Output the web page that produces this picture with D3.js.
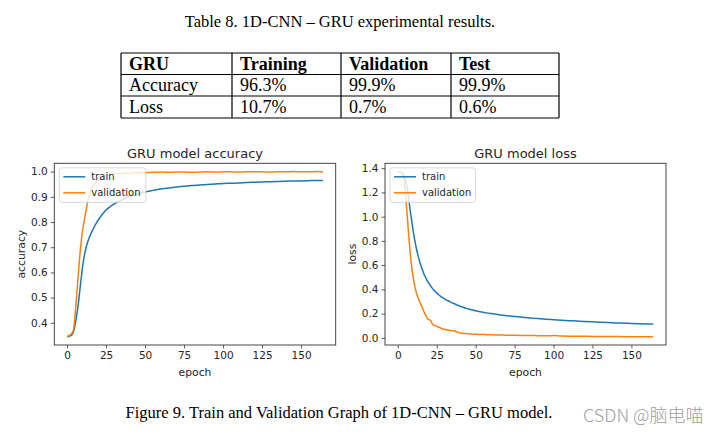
<!DOCTYPE html>
<html>
<head>
<meta charset="utf-8">
<script src="https://cdn.jsdelivr.net/npm/d3@7"></script>
<style>
  body { margin: 0; background: #fff; }
  svg { display: block; }
</style>
</head>
<body>
<div id="chart"></div>
<script>
// table values
var tableHeaders = ["GRU", "Training", "Validation", "Test"];
var tableMetrics = ["Accuracy", "Loss"];
var trainingCol = ["96.3%", "10.7%"];
var validationCol = ["99.9%", "0.7%"];
var testCol = ["99.9%", "0.6%"];

// epochs sampled from the curves
var epochs = [0,1,2,3,4,5,6,7,8,9,10,11,12,13,14,15,16,17,18,19,20,21,22,23,24,25,26,27,28,29,30,
  32,34,36,38,40,42,44,46,48,50,52,54,56,58,60,
  65,70,75,80,85,90,95,100,105,110,115,120,125,130,135,140,145,150,155,160,164];

var trainAcc = [.345,.346,.348,.352,.362,.388,.425,.465,.52,.575,.625,.665,.695,.717,.735,.75,.763,.776,.788,.799,.808,.817,.826,.834,.841,.848,.853,.858,.863,.867,.871,
  .878,.885,.891,.896,.901,.905,.909,.913,.916,.919,.922,.924,.927,.929,.931,
  .935,.939,.942,.945,.947,.949,.951,.953,.954,.955,.957,.958,.959,.96,.961,.962,.963,.963,.964,.965,.965];

var valAcc = [.345,.348,.352,.358,.37,.42,.5,.575,.655,.72,.77,.805,.84,.875,.9,.92,.935,.945,.955,.962,.968,.972,.976,.979,.982,.984,.986,.987,.988,.989,.99,
  .991,.992,.993,.994,.993,.995,.996,.995,.996,.997,.996,.997,.998,.997,.998,
  .997,.998,.998,.997,.998,.999,.998,.999,.999,.998,.999,.999,.999,.998,.999,.999,1.0,.999,.999,1.0,.999];

var trainLoss = [1.372,1.37,1.366,1.358,1.34,1.3,1.24,1.15,1.05,.96,.875,.8,.735,.68,.63,.59,.555,.52,.495,.47,.45,.43,.412,.397,.383,.37,.358,.348,.338,.33,.322,
  .308,.295,.283,.271,.261,.252,.243,.236,.229,.223,.218,.213,.208,.204,.2,
  .191,.183,.176,.17,.164,.159,.154,.15,.146,.142,.138,.135,.132,.129,.126,.123,.121,.119,.117,.115,.114];

var valLoss = [1.372,1.37,1.365,1.35,1.3,1.18,1.02,.85,.7,.58,.49,.42,.37,.33,.3,.27,.24,.21,.185,.16,.15,.145,.12,.105,.1,.095,.088,.085,.078,.072,.07,
  .065,.06,.058,.048,.04,.036,.035,.032,.031,.03,.028,.029,.027,.026,.025,
  .024,.022,.021,.02,.019,.018,.017,.019,.015,.014,.014,.013,.012,.012,.011,.011,.01,.01,.01,.009,.009];

var xTicks = [0, 25, 50, 75, 100, 125, 150];
var accTicks = [0.4, 0.5, 0.6, 0.7, 0.8, 0.9, 1.0];
var lossTicks = [0.0, 0.2, 0.4, 0.6, 0.8, 1.0, 1.2, 1.4];
var seriesNames = ["train", "validation"];
var seriesColors = ["#1f77b4", "#ff7f0e"];

var W = 721, H = 441;
var svg = d3.select("#chart").append("svg")
  .attr("width", W).attr("height", H);

var serif = "'Liberation Serif', 'Times New Roman', serif";
var sans = "'DejaVu Sans', sans-serif";

// ---- table ----
svg.append("text")
  .attr("x", 340).attr("y", 27)
  .attr("text-anchor", "middle")
  .style("font-family", serif).style("font-size", "16.5px")
  .text("Table 8. 1D-CNN \u2013 GRU experimental results.");

var colEdges = [121, 232, 341, 451, 559];
var rowEdges = [53, 74.5, 96, 118];
var tbl = svg.append("g");
var cells = [tableHeaders];
tableMetrics.forEach(function(m, i) {
  cells.push([m, trainingCol[i], validationCol[i], testCol[i]]);
});
cells.forEach(function(row, r) {
  row.forEach(function(txt, c) {
    tbl.append("text")
      .attr("x", colEdges[c] + 8)
      .attr("y", rowEdges[r + 1] - 5)
      .style("font-family", serif)
      .style("font-size", "18px")
      .style("font-weight", r == 0 ? "bold" : "normal")
      .text(txt);
  });
});
rowEdges.forEach(function(y) {
  tbl.append("line").attr("x1", colEdges[0]).attr("x2", colEdges[4])
    .attr("y1", y).attr("y2", y).attr("stroke", "#000").attr("stroke-width", 1.2);
});
colEdges.forEach(function(x) {
  tbl.append("line").attr("x1", x).attr("x2", x)
    .attr("y1", rowEdges[0]).attr("y2", rowEdges[3]).attr("stroke", "#000").attr("stroke-width", 1.2);
});

// ---- charts ----
function drawChart(opt) {
  var g = svg.append("g");
  var x = d3.scaleLinear().domain([-8.2, 172.2]).range([opt.left, opt.right]);
  var y = d3.scaleLinear().domain(opt.yDomain).range([opt.bottom, opt.top]);

  var line = d3.line()
    .x(function(d) { return x(d[0]); })
    .y(function(d) { return y(d[1]); })
    .curve(d3.curveMonotoneX);

  opt.series.forEach(function(vals, i) {
    g.append("path")
      .datum(epochs.map(function(e, k) { return [e, vals[k]]; }))
      .attr("fill", "none")
      .attr("stroke", seriesColors[i])
      .attr("stroke-width", 1.5)
      .attr("d", line);
  });

  var xAxis = g.append("g")
    .attr("transform", "translate(0," + opt.bottom + ")")
    .call(d3.axisBottom(x).tickValues(xTicks).tickSize(3.5).tickPadding(3));
  var yAxis = g.append("g")
    .attr("transform", "translate(" + opt.left + ",0)")
    .call(d3.axisLeft(y).tickValues(opt.yTicks).tickFormat(d3.format(".1f")).tickSize(3.5).tickPadding(3));
  [xAxis, yAxis].forEach(function(a) {
    a.select(".domain").remove();
    a.selectAll("line").attr("stroke", "#333").attr("stroke-width", 0.8);
    a.selectAll("text").style("font-family", sans).style("font-size", "10.5px").attr("fill", "#262626");
  });

  g.append("rect")
    .attr("x", opt.left).attr("y", opt.top)
    .attr("width", opt.right - opt.left).attr("height", opt.bottom - opt.top)
    .attr("fill", "none").attr("stroke", "#333").attr("stroke-width", 0.9);

  // legend
  var lg = g.append("g").attr("transform", "translate(" + (opt.left + 5) + "," + (opt.top + 4.5) + ")");
  lg.append("rect")
    .attr("width", opt.legendW).attr("height", 34.5)
    .attr("rx", 2.5)
    .attr("fill", "#fff").attr("fill-opacity", 0.8)
    .attr("stroke", "#d0d0d0").attr("stroke-width", 0.8);
  seriesNames.forEach(function(n, i) {
    var ly = 9 + i * 16;
    lg.append("line").attr("x1", 4).attr("x2", 26).attr("y1", ly).attr("y2", ly)
      .attr("stroke", seriesColors[i]).attr("stroke-width", 1.5);
    lg.append("text").attr("x", 32).attr("y", ly + 3.5)
      .style("font-family", sans).style("font-size", "10px").attr("fill", "#262626")
      .text(n);
  });

  g.append("text")
    .attr("x", (opt.left + opt.right) / 2).attr("y", opt.top - 5)
    .attr("text-anchor", "middle")
    .style("font-family", sans).style("font-size", "13px").attr("fill", "#262626")
    .text(opt.title);
  g.append("text")
    .attr("x", (opt.left + opt.right) / 2).attr("y", opt.bottom + 31)
    .attr("text-anchor", "middle")
    .style("font-family", sans).style("font-size", "10.8px").attr("fill", "#262626")
    .text("epoch");
  g.append("text")
    .attr("transform", "translate(" + opt.yLabelX + "," + ((opt.top + opt.bottom) / 2) + ") rotate(-90)")
    .attr("text-anchor", "middle")
    .style("font-family", sans).style("font-size", "10.8px").attr("fill", "#262626")
    .text(opt.yLabel);
}

drawChart({
  left: 54.3, right: 335.7, top: 163.3, bottom: 345,
  yDomain: [0.312, 1.033], yTicks: accTicks,
  series: [trainAcc, valAcc],
  title: "GRU model accuracy", yLabel: "accuracy", yLabelX: 25, legendW: 86.5
});

drawChart({
  left: 385, right: 666, top: 163.3, bottom: 345,
  yDomain: [-0.059, 1.44], yTicks: lossTicks,
  series: [trainLoss, valLoss],
  title: "GRU model loss", yLabel: "loss", yLabelX: 356, legendW: 85.5
});

// caption and watermark
svg.append("text")
  .attr("x", 339).attr("y", 418)
  .attr("text-anchor", "middle")
  .style("font-family", serif).style("font-size", "16.5px")
  .text("Figure 9. Train and Validation Graph of 1D-CNN \u2013 GRU model.");

svg.append("text")
  .attr("x", 583).attr("y", 422)
  .style("font-family", "'Noto Sans CJK SC', 'Noto Sans', sans-serif").style("font-size", "18px")
  .style("font-weight", 300)
  .attr("fill", "#a0a0a0")
  .text("CSDN @\u8111\u7535\u55b5");
</script>
</body>
</html>
